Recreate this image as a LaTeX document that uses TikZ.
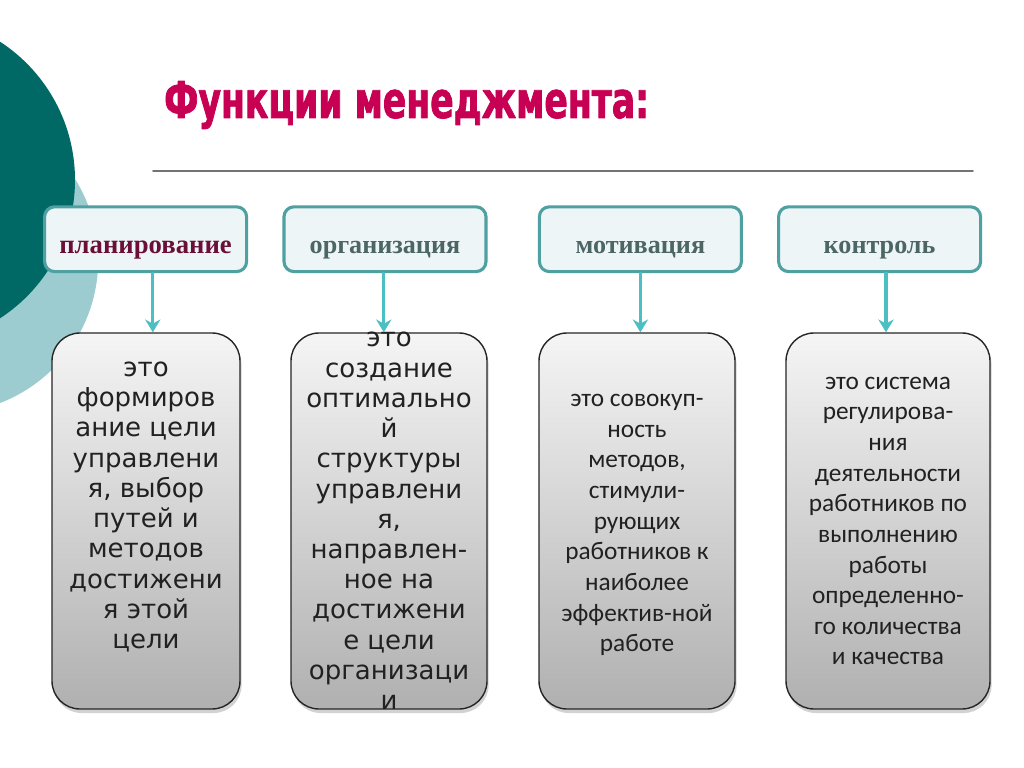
\documentclass[tikz,border=0pt]{standalone}
\usepackage{fontspec}
\setmainfont{Liberation Serif}
\newfontfamily\verdfont{DejaVu Sans}
\newfontfamily\calfont{Carlito}
\newfontfamily\impfont{DejaVu Sans Condensed}[FakeBold=1.5,FakeStretch=0.76]
\usetikzlibrary{calc}
\usetikzlibrary{arrows,arrows.meta}
\usetikzlibrary{shadows}
\definecolor{qqttss}{rgb}{0.,0.41,0.40}
\definecolor{ttccdd}{rgb}{0.61,0.80,0.81}
\definecolor{ccqqtt}{rgb}{0.78,0.,0.33}
\definecolor{ttqqss}{rgb}{0.31,0.63,0.63}
\definecolor{eeffff}{rgb}{0.93,0.96,0.97}
\definecolor{ggqqdd}{rgb}{0.42,0.06,0.22}
\definecolor{ddggff}{rgb}{0.30,0.40,0.40}
\definecolor{ddbbcc}{rgb}{0.30,0.75,0.76}
\definecolor{zzzzzz}{rgb}{0.13,0.13,0.13}
\tikzstyle{every node}=[font=\large]
\tikzstyle{head}=[draw=ttqqss,line width=2.2pt,fill=eeffff,rounded corners=0.25cm,minimum width=5.05cm,minimum height=1.62cm,text height=0.7cm,text depth=0pt,font=\bfseries\fontsize{18.6}{22}\selectfont,text=ddggff]
\tikzstyle{desc}=[draw=black!85,line width=1pt,rounded corners=0.7cm,top color=black!4,bottom color=black!31,drop shadow={shadow xshift=0.04cm,shadow yshift=-0.1cm,opacity=0.35},minimum height=9.4cm,inner sep=0pt]
\tikzstyle{verd}=[align=center,text=zzzzzz,font=\verdfont\fontsize{18.5}{21.5}\selectfont]
\tikzstyle{cal}=[align=center,text=zzzzzz,font=\calfont\fontsize{18}{21.8}\selectfont]
\tikzstyle{arr}=[->,line width=2.2pt,color=ddbbcc]

\begin{document}
\begin{tikzpicture}[line cap=round,line join=round,>={Stealth[length=0.32cm,width=0.38cm]},x=1.0cm,y=1.0cm]
            \clip(0.,0.) rectangle (25.6,-19.2);
            \fill[color=white] (0.,0.) rectangle (25.6,-19.2);
            \fill[color=ttccdd] (-1.375,-6.5) circle (3.83);
            \fill[color=qqttss] (-2.25,-4.5) circle (4.125);
            % title
            \node[anchor=base west,text=ccqqtt,font=\impfont\bfseries\fontsize{36}{40}\selectfont] (title) at (3.98,-2.95) {Функции менеджмента:};
            \draw [line width=1.2pt,color=black!55] (3.825,-4.275)-- (24.325,-4.275);
            % heads
            \node[head,text=ggqqdd,font=\bfseries\fontsize{19}{22}\selectfont] (plan) at (3.64,-5.98) {планирование};
            \node[head] (org) at (9.625,-5.98) {организация};
            \node[head] (motiv) at (16.01,-5.98) {мотивация};
            \node[head] (kontr) at (21.99,-5.98) {контроль};
            % descriptions
            \node[desc,minimum width=4.7cm] (planT) at (3.65,-13.025) {};
            \node[desc,minimum width=4.9cm] (orgT) at (9.725,-13.025) {};
            \node[desc,minimum width=4.9cm] (motivT) at (15.925,-13.025) {};
            \node[desc,minimum width=5.1cm] (kontrT) at (22.2,-13.025) {};
            \node[verd,yshift=0.35cm] (planX) at (planT) {это\\формиров\\ание цели\\управлени\\я, выбор\\путей и\\методов\\достижени\\я этой\\цели};
            \node[verd] (orgX) at (orgT) {это\\создание\\оптимально\\й\\структуры\\управлени\\я,\\направлен-\\ное на\\достижени\\е цели\\организаци\\и};
            \node[cal,yshift=-0.1cm] (motivX) at (motivT) {это совокуп-\\ность\\методов,\\стимули-\\рующих\\работников к\\наиболее\\эффектив-ной\\работе};
            \node[cal] (kontrX) at (kontrT) {это система\\регулирова-\\ния\\деятельности\\работников по\\выполнению\\работы\\определенно-\\го количества\\и качества};
            % arrows
            \draw[arr] ([xshift=0.18cm]plan.south) -- ([xshift=0.18cm]plan.south |- planT.north);
            \draw[arr] ([xshift=-0.03cm]org.south) -- ([xshift=-0.03cm]org.south |- orgT.north);
            \draw[arr] (motiv.south) -- (motiv.south |- motivT.north);
            \draw[arr] ([xshift=0.16cm]kontr.south) -- ([xshift=0.16cm]kontr.south |- kontrT.north);
            \end{tikzpicture}
\end{document}
